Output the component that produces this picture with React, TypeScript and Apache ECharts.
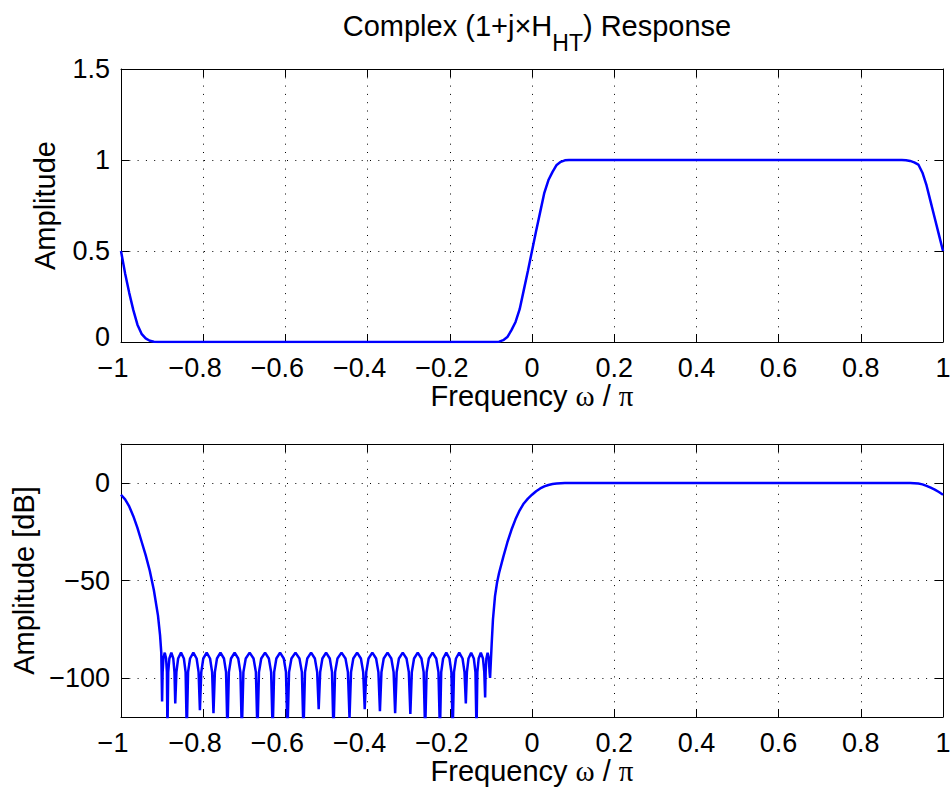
import React, { useEffect, useRef } from 'react';
import * as echarts from 'echarts';

// ---------- data ----------
const ampTicks = [0, 0.5, 1, 1.5];
const dbTicks = [-100, -50, 0];

// top panel: amplitude
const ampFreq = [-1, -0.99, -0.98, -0.97, -0.96, -0.95, -0.94, -0.93, -0.92, -0.91,
  -0.1, -0.09, -0.08, -0.07, -0.06, -0.05, -0.04, -0.03, -0.02, -0.01, 0, 0.01, 0.02, 0.03, 0.04, 0.05, 0.06, 0.07, 0.08, 0.09, 0.1,
  0.9, 0.91, 0.92, 0.93, 0.94, 0.95, 0.96, 0.97, 0.98, 0.99, 1];
const ampValues = [0.5, 0.377, 0.27, 0.175, 0.095, 0.045, 0.02, 0.007, 0.001, 0,
  0, 0, 0.002, 0.01, 0.027, 0.065, 0.11, 0.18, 0.285, 0.39, 0.5, 0.61, 0.715, 0.82, 0.89, 0.935, 0.973, 0.99, 0.998, 1, 1,
  1, 0.999, 0.995, 0.987, 0.975, 0.93, 0.86, 0.77, 0.68, 0.59, 0.5];

// bottom panel: amplitude in dB
const dbLeftFreq = [-1, -0.99, -0.98, -0.97, -0.96, -0.95, -0.94, -0.93, -0.92, -0.91, -0.905, -0.902];
const dbLeftValues = [-6, -8.4, -12, -17, -23, -30, -37, -45, -55, -68, -78, -87];

const stopband: [number, number][] = [
  [-0.9, -112],
  [-0.8987, -97], [-0.8968, -90], [-0.8935, -87], [-0.8903, -90], [-0.8883, -97],
  [-0.887, -128],
  [-0.8851, -97], [-0.8823, -90], [-0.8775, -87], [-0.8728, -90], [-0.8699, -97],
  [-0.868, -113],
  [-0.8652, -97], [-0.861, -90], [-0.854, -87], [-0.847, -90], [-0.8428, -97],
  [-0.84, -128],
  [-0.8368, -97], [-0.832, -90], [-0.824, -87], [-0.816, -90], [-0.8112, -97],
  [-0.808, -116.5],
  [-0.8047, -97], [-0.7998, -90], [-0.7915, -87], [-0.7833, -90], [-0.7783, -97],
  [-0.775, -118],
  [-0.7716, -97], [-0.7665, -90], [-0.758, -87], [-0.7495, -90], [-0.7444, -97],
  [-0.741, -128],
  [-0.7375, -97], [-0.7323, -90], [-0.7235, -87], [-0.7148, -90], [-0.7095, -97],
  [-0.706, -128],
  [-0.7022, -97], [-0.6965, -90], [-0.687, -87], [-0.6775, -90], [-0.6718, -97],
  [-0.668, -128],
  [-0.6643, -97], [-0.6588, -90], [-0.6495, -87], [-0.6403, -90], [-0.6347, -97],
  [-0.631, -128],
  [-0.6274, -97], [-0.622, -90], [-0.613, -87], [-0.604, -90], [-0.5986, -97],
  [-0.595, -128],
  [-0.5911, -97], [-0.5853, -90], [-0.5755, -87], [-0.5658, -90], [-0.5599, -97],
  [-0.556, -128],
  [-0.5523, -97], [-0.5468, -90], [-0.5375, -87], [-0.5283, -90], [-0.5227, -97],
  [-0.519, -116],
  [-0.5154, -97], [-0.51, -90], [-0.501, -87], [-0.492, -90], [-0.4866, -97],
  [-0.483, -128],
  [-0.4791, -97], [-0.4733, -90], [-0.4635, -87], [-0.4538, -90], [-0.4479, -97],
  [-0.444, -120.5],
  [-0.4403, -97], [-0.4348, -90], [-0.4255, -87], [-0.4163, -90], [-0.4107, -97],
  [-0.407, -116],
  [-0.4033, -97], [-0.3978, -90], [-0.3885, -87], [-0.3793, -90], [-0.3737, -97],
  [-0.37, -117],
  [-0.3663, -97], [-0.3608, -90], [-0.3515, -87], [-0.3423, -90], [-0.3367, -97],
  [-0.333, -118],
  [-0.3293, -97], [-0.3238, -90], [-0.3145, -87], [-0.3053, -90], [-0.2997, -97],
  [-0.296, -118.5],
  [-0.2924, -97], [-0.287, -90], [-0.278, -87], [-0.269, -90], [-0.2636, -97],
  [-0.26, -128],
  [-0.2564, -97], [-0.251, -90], [-0.242, -87], [-0.233, -90], [-0.2276, -97],
  [-0.224, -128],
  [-0.2209, -97], [-0.2163, -90], [-0.2085, -87], [-0.2008, -90], [-0.1961, -97],
  [-0.193, -128],
  [-0.1898, -97], [-0.185, -90], [-0.177, -87], [-0.169, -90], [-0.1642, -97],
  [-0.161, -113],
  [-0.1584, -97], [-0.1545, -90], [-0.148, -87], [-0.1415, -90], [-0.1376, -97],
  [-0.135, -128],
  [-0.1329, -97], [-0.1298, -90], [-0.1245, -87], [-0.1193, -90], [-0.1161, -97],
  [-0.114, -110],
  [-0.1128, -97], [-0.111, -90], [-0.108, -87], [-0.105, -90], [-0.1032, -97],
  [-0.102, -100],
];

const dbRightFreq = [-0.098, -0.095, -0.09, -0.085, -0.08, -0.07, -0.06, -0.05, -0.04, -0.03,
  -0.02, -0.01, 0, 0.01, 0.02, 0.03, 0.04, 0.05, 0.06, 0.08,
  0.1, 0.92, 0.93, 0.94, 0.95, 0.96, 0.97, 0.98, 0.99, 1];
const dbRightValues = [-82, -70, -58, -51, -46, -38, -30.5, -24, -18.5, -14,
  -10.5, -8, -6, -4.2, -2.8, -1.7, -1, -0.5, -0.25, -0.05,
  0, 0, -0.1, -0.3, -0.7, -1.5, -2.4, -3.4, -4.6, -6];

// ---------- chart ----------
const FONT = "'Liberation Sans', Arial, Helvetica, sans-serif";
const TICK_FS = 27;
const LABEL_FS = 29;

const fmt = (v: number) => {
  const r = Math.round(v * 10) / 10;
  const s = String(Math.abs(r));
  return r < 0 ? '\u2212' + s : s;
};

// x tick labels: digits centred on the tick, minus sign hanging to the left (as in the reference)
const fmtX = (v: number) => {
  const r = Math.round(v * 10) / 10;
  return r < 0 ? `{n|${fmt(v)}}` : `{p|${fmt(v)}}`;
};

// y tick labels: the lowest label of the top panel sits a little higher so it clears the x labels
const fmtYTop = (v: number) => (v === 0 ? `{z|${fmt(v)}}` : `{p|${fmt(v)}}`);

const tickText = { fontSize: TICK_FS, fontFamily: FONT, color: '#000', lineHeight: 20 };
const dotted = { color: '#000', width: 1, type: [1, 7.3] as number[] };

function xAxes(gridIndex: number) {
  const common = {
    type: 'value' as const,
    gridIndex,
    min: -1,
    max: 1,
    interval: 0.2,
    axisLine: { show: true, onZero: false, lineStyle: { color: '#000', width: 1 } },
    axisTick: { show: true, inside: true, length: 8, lineStyle: { color: '#000' } },
  };
  return [
    {
      ...common,
      position: 'bottom',
      axisLabel: {
        show: true, margin: 15.5, ...tickText, formatter: fmtX,
        rich: {
          n: { ...tickText, padding: [0, 16, 0, 0] },
          p: { ...tickText },
        },
      },
      splitLine: { show: true, lineStyle: dotted },
      name: '{t|Frequency }{g|\u03c9}{t| / }{g|\u03c0}',
      nameLocation: 'middle',
      nameGap: 38,
      nameTextStyle: {
        color: '#000',
        fontSize: LABEL_FS,
        fontFamily: FONT,
        rich: {
          t: { fontSize: LABEL_FS, fontFamily: FONT, color: '#000' },
          g: { fontSize: LABEL_FS, fontFamily: "'Liberation Serif', serif", color: '#000' },
        },
      },
    },
    {
      ...common,
      position: 'top',
      axisLabel: { show: false },
      splitLine: { show: false },
    },
  ];
}

function yAxes(gridIndex: number, min: number, max: number, ticks: number[], name: string, top: boolean) {
  const common = {
    type: 'value' as const,
    gridIndex,
    min,
    max,
    axisLine: { show: true, onZero: false, lineStyle: { color: '#000', width: 1 } },
    axisTick: { show: true, inside: true, length: 8, lineStyle: { color: '#000' }, customValues: ticks },
  };
  return [
    {
      ...common,
      position: 'left',
      axisLabel: {
        show: true, margin: 11, ...tickText,
        formatter: top ? fmtYTop : fmt, customValues: ticks,
        rich: {
          z: { ...tickText, padding: [0, 0, 10, 0] },
          p: { ...tickText },
        },
      },
      splitLine: { show: true, lineStyle: dotted },
      name,
      nameLocation: 'middle',
      nameGap: 62,
      nameTextStyle: { color: '#000', fontSize: LABEL_FS, fontFamily: FONT },
    },
    {
      ...common,
      position: 'right',
      axisLabel: { show: false, customValues: ticks },
      splitLine: { show: false },
    },
  ];
}

export default function App() {
  const ref = useRef<HTMLDivElement>(null);

  useEffect(() => {
    if (!ref.current) return;
    const chart = echarts.init(ref.current, null, { renderer: 'svg' });

    const topData = ampFreq.map((f, i) => [f, ampValues[i]]);
    const bottomData = [
      ...dbLeftFreq.map((f, i) => [f, dbLeftValues[i]]),
      ...stopband,
      ...dbRightFreq.map((f, i) => [f, dbRightValues[i]]),
    ];

    chart.setOption({
      animation: false,
      backgroundColor: '#fff',
      textStyle: { fontFamily: FONT },
      title: {
        text: '{a|Complex (1+j\u00d7H}{s|HT}{a|) Response}',
        left: 532,
        top: 6,
        textAlign: 'center',
        textStyle: {
          fontSize: 29,
          fontWeight: 'normal',
          color: '#000',
          fontFamily: FONT,
          rich: {
            a: { fontSize: 29, fontFamily: FONT, color: '#000', lineHeight: 32, verticalAlign: 'top' },
            s: { fontSize: 23, fontFamily: FONT, color: '#000', lineHeight: 25, verticalAlign: 'top', padding: [20, 0, 0, 0] },
          },
        },
      },
      grid: [
        { left: 121, right: 9, top: 69, height: 273, outerBoundsMode: 'none' },
        { left: 121, right: 9, top: 444, height: 273, outerBoundsMode: 'none' },
      ],
      xAxis: [...xAxes(0), ...xAxes(1)],
      yAxis: [
        ...yAxes(0, 0, 1.5, ampTicks, 'Amplitude', true),
        ...yAxes(1, -120, 20, dbTicks, 'Amplitude [dB]', false),
      ],
      series: [
        {
          type: 'line',
          xAxisIndex: 0,
          yAxisIndex: 0,
          data: topData,
          showSymbol: false,
          clip: true,
          lineStyle: { color: '#0000ff', width: 2.5 },
          itemStyle: { color: '#0000ff' },
        },
        {
          type: 'line',
          xAxisIndex: 2,
          yAxisIndex: 2,
          data: bottomData,
          showSymbol: false,
          clip: true,
          lineStyle: { color: '#0000ff', width: 2.5 },
          itemStyle: { color: '#0000ff' },
        },
      ],
    });

    return () => chart.dispose();
  }, []);

  return (
    <div
      ref={ref}
      style={{ position: 'absolute', left: 0, top: 0, width: 952, height: 789, background: '#fff' }}
    />
  );
}
